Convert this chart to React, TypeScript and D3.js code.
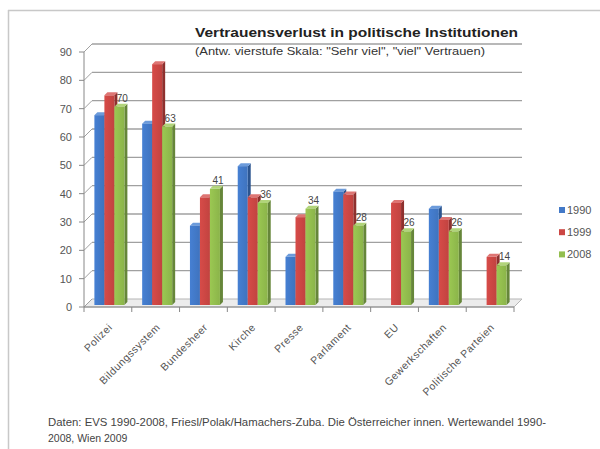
import React from "react";
import * as d3 from "d3";

const categories = ["Polizei", "Bildungssystem", "Bundesheer", "Kirche", "Presse", "Parlament", "EU", "Gewerkschaften", "Politische Parteien"];
const seriesNames = ["1990", "1999", "2008"];
const values1990: (number | null)[] = [67, 64, 28, 49, 17, 40, null, 34, null];
const values1999: (number | null)[] = [74, 85, 38, 38, 31, 39, 36, 30, 17];
const values2008: (number | null)[] = [70, 63, 41, 36, 34, 28, 26, 26, 14];
const yTicks = [0, 10, 20, 30, 40, 50, 60, 70, 80, 90];
const title = "Vertrauensverlust in politische Institutionen";
const subtitle = "(Antw. vierstufe Skala: \"Sehr viel\", \"viel\" Vertrauen)";
const footer1 = "Daten: EVS 1990-2008, Friesl/Polak/Hamachers-Zuba. Die Österreicher innen. Wertewandel 1990-";
const footer2 = "2008, Wien 2009";

const FRONT = ["#4279C8", "#CC4744", "#93BE4E"];
const SIDE = ["#2C5590", "#8E302E", "#66863A"];
const TOP = ["#6C9BDB", "#DE7573", "#B1D47A"];

const FONT = "'Liberation Sans', Arial, sans-serif";

export default function App() {
  const W = 600, H = 449;
  const x = d3.scaleBand<string>().domain(categories).range([84, 514]);
  const y = d3.scaleLinear().domain([0, 90]).range([307, 52]);
  const DX = 8, DY = -8;
  const bw = 10;
  const bdx = 3, bdy = -3;
  const allSeries = [values1990, values1999, values2008];

  const bars: React.ReactNode[] = [];
  categories.forEach((c, ci) => {
    const x0 = (x(c) as number) + (x.bandwidth() - 3 * bw) / 2 + 1.5;
    allSeries.forEach((vals, si) => {
      const v = vals[ci];
      if (v == null) return;
      const bx = x0 + si * bw;
      const top = y(v) - 2;
      const base = y(0) - 2;
      bars.push(
        <g key={`${ci}-${si}`}>
          <polygon points={`${bx + bw},${top} ${bx + bw + bdx},${top + bdy} ${bx + bw + bdx},${base + bdy} ${bx + bw},${base}`} fill={SIDE[si]} />
          <polygon points={`${bx},${top} ${bx + bdx},${top + bdy} ${bx + bw + bdx},${top + bdy} ${bx + bw},${top}`} fill={TOP[si]} />
          <rect x={bx} y={top} width={bw} height={base - top} fill={`url(#grad${si})`} />
        </g>
      );
    });
  });

  const labels = categories.map((c, ci) => {
    const v = values2008[ci];
    if (v == null) return null;
    const x0 = (x(c) as number) + (x.bandwidth() - 3 * bw) / 2 + 1.5;
    const cx = x0 + 2 * bw + bw / 2 + 3;
    return (
      <text key={c} x={cx} y={y(v) - 7} textAnchor="middle" fontSize={10} fill="#444" fontFamily={FONT}>{v}</text>
    );
  });

  return (
    <svg width={W} height={H} style={{ position: "absolute", left: 0, top: 0, background: "#fff" }}>
      <defs>
        {FRONT.map((col, i) => (
          <linearGradient key={i} id={`grad${i}`} x1="0" x2="1" y1="0" y2="0">
            <stop offset="0" stopColor={d3.color(col)!.brighter(0.15).toString()} />
            <stop offset="1" stopColor={d3.color(col)!.darker(0.15).toString()} />
          </linearGradient>
        ))}
      </defs>
      <rect x={0} y={0} width={W} height={H} fill="#fff" />
      <line x1={8.5} y1={10} x2={8.5} y2={H} stroke="#c8c8c8" strokeWidth={1.5} />
      <line x1={8} y1={10.5} x2={W} y2={10.5} stroke="#c8c8c8" strokeWidth={1.5} />

      {/* title */}
      <text x={195} y={37} fontSize={13} fontWeight="bold" fill="#222" fontFamily={FONT} textLength={323} lengthAdjust="spacingAndGlyphs">{title}</text>
      <text x={195} y={55} fontSize={10.5} fill="#333" fontFamily={FONT} textLength={290} lengthAdjust="spacingAndGlyphs">{subtitle}</text>

      {/* floor */}
      <polygon points={`${84},${y(0)} ${84 + DX},${y(0) + DY} ${514 + DX},${y(0) + DY} ${514},${y(0)}`} fill="#ececec" stroke="#b5b5b5" strokeWidth={1} />

      {/* gridlines */}
      {yTicks.map(t => (
        <g key={t}>
          {t > 0 && <line x1={84 + DX} y1={y(t) + DY} x2={514 + DX} y2={y(t) + DY} stroke="#a0a0a0" strokeWidth={1.3} />}
          <line x1={84} y1={y(t)} x2={84 + DX} y2={y(t) + DY} stroke="#a0a0a0" strokeWidth={1} />
          <line x1={79} y1={y(t)} x2={84} y2={y(t)} stroke="#888" strokeWidth={1} />
          <text x={72} y={y(t)} dy="0.35em" textAnchor="end" fontSize={11} fill="#555" fontFamily={FONT}>{t}</text>
        </g>
      ))}
      <line x1={84} y1={y(0)} x2={84} y2={y(90)} stroke="#888" strokeWidth={1} />
      <line x1={84} y1={y(0)} x2={514} y2={y(0)} stroke="#888" strokeWidth={1} />
      {d3.range(categories.length + 1).map(i => {
        const xx = 84 + i * x.step();
        return <line key={i} x1={xx} y1={y(0)} x2={xx} y2={y(0) + 5} stroke="#888" strokeWidth={1} />;
      })}

      {bars}
      {labels}

      {/* category labels */}
      {categories.map(c => {
        const cx = (x(c) as number) + x.bandwidth() / 2 + 5;
        return (
          <text key={c} transform={`translate(${cx},${328}) rotate(-45)`} textAnchor="end" fontSize={10.5} letterSpacing={0.5} fill="#555" fontFamily={FONT}>{c}</text>
        );
      })}

      {/* legend */}
      {seriesNames.map((s, i) => (
        <g key={s}>
          <rect x={559} y={207 + i * 22.2} width={6} height={6} fill={FRONT[i]} />
          <text x={567} y={210 + i * 22.2} dy="0.35em" fontSize={11} fill="#555" fontFamily={FONT}>{s}</text>
        </g>
      ))}

      {/* footer */}
      <text x={48} y={426} fontSize={10.5} fill="#444" fontFamily={FONT} textLength={498} lengthAdjust="spacingAndGlyphs">{footer1}</text>
      <text x={48} y={442} fontSize={10.5} fill="#444" fontFamily={FONT}>{footer2}</text>
    </svg>
  );
}
